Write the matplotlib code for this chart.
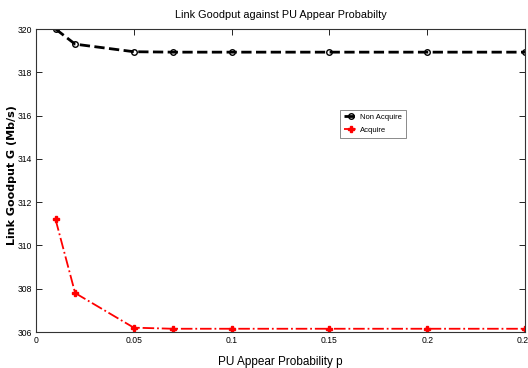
import matplotlib
matplotlib.use("Agg")
import matplotlib.pyplot as plt

p_values = [0.01, 0.02, 0.05, 0.07, 0.1, 0.15, 0.2, 0.25]
non_acquire = [320.0, 319.3, 318.95, 318.93, 318.93, 318.93, 318.93, 318.93]
acquire = [311.2, 307.8, 306.2, 306.15, 306.15, 306.15, 306.15, 306.15]
x_ticks = [0, 0.05, 0.1, 0.15, 0.2, 0.25]
x_tick_labels = ["0", "0.05", "0.1", "0.15", "0.2", "0.25"]
y_ticks = [306, 308, 310, 312, 314, 316, 318, 320]

base = "Liberation Sans"

fig = plt.figure(figsize=(5.28, 3.68), dpi=100)
ax = fig.add_axes([36/528, 1-332/368, (525-36)/528, (332-29)/368])

ax.plot(p_values, non_acquire, linestyle="--", color="black", linewidth=2.0,
        marker="o", markersize=4, markerfacecolor="none", markeredgecolor="black",
        markeredgewidth=1.0, label="Non Acquire")
ax.plot(p_values, acquire, linestyle="-.", color="#ff0000", linewidth=1.3,
        marker="P", markersize=5, markerfacecolor="#ff0000", markeredgecolor="#ff0000",
        label="Acquire")

ax.set_xlim(0, 0.25)
ax.set_ylim(306, 320)
ax.set_xticks(x_ticks)
ax.set_xticklabels(x_tick_labels, family=base, fontsize=6.2)
ax.set_yticks(y_ticks)
ax.set_yticklabels([str(v) for v in y_ticks], family=base, fontsize=6.2)
ax.tick_params(direction="in", top=True, right=True, length=4, width=0.6, pad=3)
for s in ax.spines.values():
    s.set_linewidth(0.8)
    s.set_color("#333333")

ax.set_title("Link Goodput against PU Appear Probabilty", family=base, fontsize=7.8, pad=8)
ax.set_xlabel("PU Appear Probability p", family=base, fontsize=8.5, labelpad=8)
ax.set_ylabel("Link Goodput G (Mb/s)", family="DejaVu Sans", fontsize=8.0, fontweight="bold")
ax.yaxis.set_label_coords((17-36)/489, (332-175)/303)

leg = ax.legend(loc="upper left", bbox_to_anchor=((336-36)/489, (332-106)/303),
                prop={"family": base, "size": 5.5}, frameon=True, fancybox=False,
                edgecolor="#555555", handlelength=1.8, handletextpad=0.4,
                borderpad=0.5, labelspacing=0.7)
leg.get_frame().set_linewidth(0.6)

fig.savefig("out.png", dpi=100)
